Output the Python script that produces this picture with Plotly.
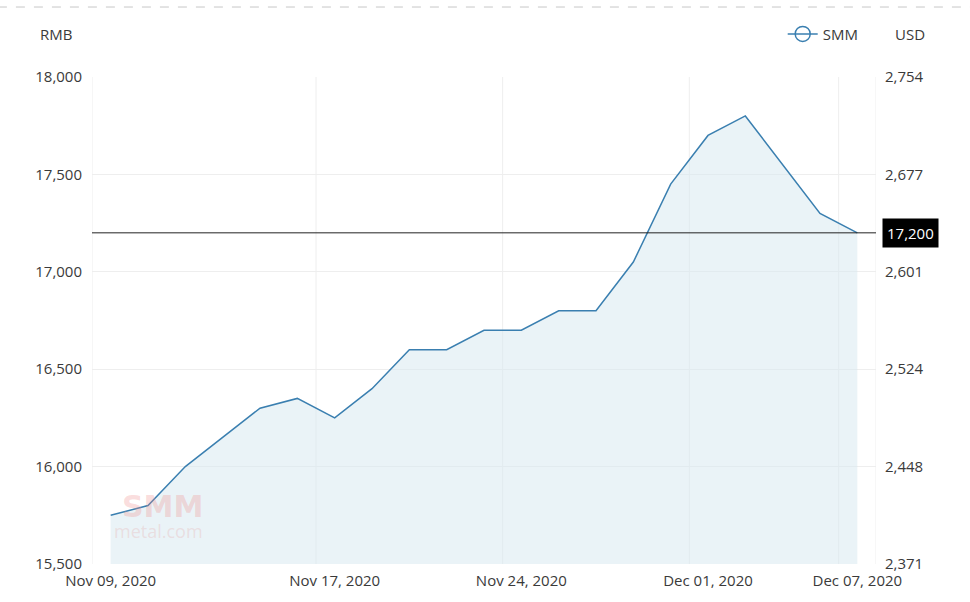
import plotly.graph_objects as go

dates = ["Nov 09, 2020", "Nov 10, 2020", "Nov 11, 2020", "Nov 12, 2020", "Nov 13, 2020",
         "Nov 16, 2020", "Nov 17, 2020", "Nov 18, 2020", "Nov 19, 2020", "Nov 20, 2020",
         "Nov 23, 2020", "Nov 24, 2020", "Nov 25, 2020", "Nov 26, 2020", "Nov 27, 2020",
         "Nov 30, 2020", "Dec 01, 2020", "Dec 02, 2020", "Dec 03, 2020", "Dec 04, 2020",
         "Dec 07, 2020"]
prices = [15750, 15800, 16000, 16150, 16300, 16350, 16250, 16400, 16600, 16600,
          16700, 16700, 16800, 16800, 17050, 17450, 17700, 17800, 17550, 17300, 17200]
rmb_ticks = [15500, 16000, 16500, 17000, 17500, 18000]
rmb_labels = ["15,500", "16,000", "16,500", "17,000", "17,500", "18,000"]
usd_labels = ["2,371", "2,448", "2,524", "2,601", "2,677", "2,754"]
tick_idx = [0, 6, 11, 16, 20]

n = len(dates)
xi = list(range(n))
line_color = "#3a7fb0"
font_family = "Open Sans, Noto Sans, sans-serif"
text_color = "#3a3a3a"

fig = go.Figure()
fig.add_trace(go.Scatter(
    x=xi, y=prices, mode="lines", line=dict(color=line_color, width=1.5),
    fill="tozeroy", fillcolor="rgba(214,231,240,0.5)", showlegend=False,
    hoverinfo="skip"))
fig.add_trace(go.Scatter(
    x=[None], y=[None], mode="lines+markers", name="SMM",
    line=dict(color=line_color, width=1.5),
    marker=dict(symbol="circle-open", size=15, color=line_color, line=dict(width=1.5)),
    showlegend=True))
fig.add_trace(go.Scatter(x=[None], y=[None], yaxis="y2", showlegend=False))

shapes = []
for b in [i - 0.5 for i in tick_idx] + [n - 0.5]:
    shapes.append(dict(type="line", xref="x", yref="paper", x0=b, x1=b, y0=0, y1=1,
                       line=dict(color="#eeeeee", width=1), layer="below"))
last = prices[-1]
shapes.append(dict(type="line", xref="paper", yref="y", x0=0, x1=1, y0=last, y1=last,
                   line=dict(color="#222222", width=1)))
shapes.append(dict(type="line", xref="paper", yref="paper", x0=-0.12, x1=1.13,
                   y0=1.1437, y1=1.1437, line=dict(color="#c8c8c8", width=1, dash="dash")))

annotations = [
    dict(text=f"{last:,}", xref="paper", yref="y", x=1, y=last, xanchor="left",
         xshift=6, showarrow=False, bgcolor="#000000", borderpad=4,
         font=dict(color="#ffffff", size=15, family=font_family)),
    dict(text="RMB", xref="paper", yref="paper", x=-0.0459, y=1.0883, xanchor="center",
         yanchor="middle", showarrow=False, font=dict(color=text_color, size=15, family=font_family)),
    dict(text="USD", xref="paper", yref="paper", x=1.0434, y=1.0883, xanchor="center",
         yanchor="middle", showarrow=False, font=dict(color=text_color, size=15, family=font_family)),
    dict(text="<b>SMM</b>", xref="paper", yref="paper", x=0.0357, y=0.118, xanchor="left",
         yanchor="middle", showarrow=False,
         font=dict(color="rgba(240,140,140,0.3)", size=30, family="DejaVu Sans")),
    dict(text="metal.com", xref="paper", yref="paper", x=0.026, y=0.068, xanchor="left",
         yanchor="middle", showarrow=False,
         font=dict(color="rgba(230,170,170,0.3)", size=18, family=font_family)),
]

fig.update_layout(
    width=970, height=602,
    margin=dict(l=92, r=94, t=77, b=38),
    paper_bgcolor="#ffffff", plot_bgcolor="#ffffff",
    font=dict(family=font_family, color=text_color, size=15),
    xaxis=dict(range=[-0.5, n - 0.5], tickmode="array", tickvals=tick_idx,
               ticktext=[dates[i] for i in tick_idx], showgrid=False, zeroline=False,
               showline=False, ticks="", ticklabelstandoff=6,
               tickfont=dict(size=15, color=text_color)),
    yaxis=dict(range=[rmb_ticks[0], rmb_ticks[-1]], tickmode="array", tickvals=rmb_ticks,
               ticktext=rmb_labels, showgrid=True, gridcolor="#eeeeee", zeroline=False,
               ticks="", ticklabelstandoff=9, tickfont=dict(size=15, color=text_color)),
    yaxis2=dict(range=[rmb_ticks[0], rmb_ticks[-1]], overlaying="y", side="right",
                tickmode="array", tickvals=rmb_ticks, ticktext=usd_labels,
                showgrid=False, zeroline=False, ticks="", ticklabelstandoff=8,
                tickfont=dict(size=15, color=text_color)),
    legend=dict(x=0.881, y=1.088, xanchor="left", yanchor="middle",
                bgcolor="rgba(0,0,0,0)", font=dict(size=15, color=text_color),
                itemwidth=30),
    shapes=shapes, annotations=annotations, hovermode=False,
)

fig.write_html("out.html")
